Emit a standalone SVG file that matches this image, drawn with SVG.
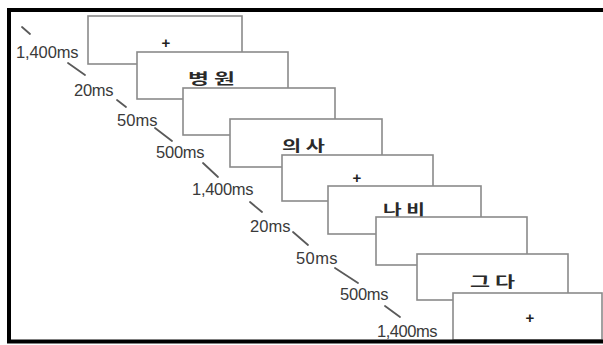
<svg xmlns="http://www.w3.org/2000/svg" width="603" height="345" viewBox="0 0 603 345">
<style>
.box{fill:#fff;stroke:#8a8a8a;stroke-width:1.6}
.t{font-family:"Liberation Sans",Arial,sans-serif;font-size:16.5px;fill:#3a3a3a;letter-spacing:-0.6px}
.k{font-family:"Noto Sans CJK KR","Noto Sans",sans-serif;font-size:14.5px;font-weight:bold;fill:#2a2a2a}
.p{font-family:"Liberation Sans",Arial,sans-serif;font-size:15px;font-weight:bold;fill:#222;text-anchor:middle}
.d{stroke:#5a5a5a;stroke-width:1.8;stroke-linecap:round}
</style>
<rect x="0" y="0" width="603" height="345" fill="#fff"/>
<g id="connectors">
<line class="d" x1="22" y1="27" x2="30" y2="34"/>
<line class="d" x1="68" y1="63" x2="85" y2="75"/>
<line class="d" x1="117" y1="100" x2="126" y2="107"/>
<line class="d" x1="155" y1="128" x2="172" y2="141"/>
<line class="d" x1="203" y1="163" x2="218" y2="177"/>
<line class="d" x1="250" y1="202" x2="262" y2="212"/>
<line class="d" x1="293" y1="232" x2="308" y2="245"/>
<line class="d" x1="335" y1="268" x2="358" y2="283"/>
<line class="d" x1="385" y1="306" x2="400" y2="317"/>
</g>
<g id="labels">
<text class="t" x="16" y="58" textLength="62">1,400ms</text>
<text class="t" x="74" y="96" textLength="39">20ms</text>
<text class="t" x="117" y="126" textLength="40">50ms</text>
<text class="t" x="156" y="158" textLength="48">500ms</text>
<text class="t" x="192" y="195" textLength="61">1,400ms</text>
<text class="t" x="250" y="232" textLength="40">20ms</text>
<text class="t" x="296" y="264" textLength="41">50ms</text>
<text class="t" x="340" y="300" textLength="48">500ms</text>
<text class="t" x="377" y="337" textLength="60">1,400ms</text>
</g>
<g id="box1"><rect class="box" x="88" y="16" width="154" height="48"/><text class="p" x="166" y="48">+</text></g>
<g id="box2"><rect class="box" x="137" y="52" width="151" height="47"/><text class="k" x="188" y="84" textLength="47" lengthAdjust="spacingAndGlyphs">병 원</text></g>
<g id="box3"><rect class="box" x="183" y="88" width="152" height="47"/></g>
<g id="box4"><rect class="box" x="230" y="119" width="152" height="48"/><text class="k" x="282" y="151" textLength="43" lengthAdjust="spacingAndGlyphs">의 사</text></g>
<g id="box5"><rect class="box" x="282" y="155" width="151" height="46"/><text class="p" x="357" y="183">+</text></g>
<g id="box6"><rect class="box" x="328" y="186" width="153" height="48"/><text class="k" x="383" y="215" textLength="42" lengthAdjust="spacingAndGlyphs">나 비</text></g>
<g id="box7"><rect class="box" x="376" y="217" width="151" height="48"/></g>
<g id="box8"><rect class="box" x="417" y="254" width="151" height="46"/><text class="k" x="470" y="287" textLength="45" lengthAdjust="spacingAndGlyphs">그 다</text></g>
<g id="box9"><rect class="box" x="453" y="293" width="149" height="47"/><text class="p" x="530" y="323">+</text></g>
<rect x="9" y="10" width="620" height="331.5" fill="none" stroke="#000" stroke-width="4"/>
</svg>
